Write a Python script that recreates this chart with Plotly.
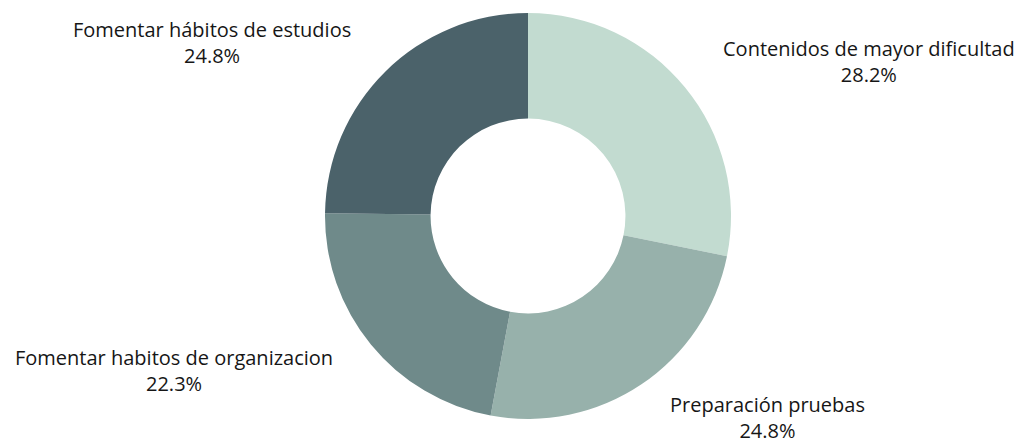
import math
import plotly.graph_objects as go

labels = ["Contenidos de mayor dificultad", "Preparación pruebas",
          "Fomentar habitos de organizacion", "Fomentar hábitos de estudios"]
values = [28.2, 24.8, 22.3, 24.8]
colors = ["#c2dbd0", "#97b1ab", "#6f8a8a", "#4b626a"]

W, H = 1023, 446
OFF = 8  # page body margin
cx, cy, R = 528 - OFF, 216 - OFF, 203
hole = 0.48
label_r = 1.2 * R
gap = 4
FONT = "Open Sans, sans-serif"

fig = go.Figure(go.Pie(
    labels=labels, values=values, sort=False, direction="clockwise", rotation=0,
    hole=hole, marker=dict(colors=colors, line=dict(width=0)),
    textinfo="none", hoverinfo="label+percent", showlegend=False,
    domain=dict(x=[(cx - R) / W, (cx + R) / W], y=[1 - (cy + R) / H, 1 - (cy - R) / H]),
))

total = sum(values)
cum = 0.0
for lab, v in zip(labels, values):
    mid = cum + v / 2
    cum += v
    ang = math.pi / 2 - 2 * math.pi * mid / total
    px = cx + label_r * math.cos(ang)
    py = cy - label_r * math.sin(ang)
    right = math.cos(ang) >= 0
    fig.add_annotation(
        x=(px + (gap if right else -gap)) / W, y=1 - py / H,
        xref="paper", yref="paper", showarrow=False,
        xanchor="left" if right else "right", yanchor="middle",
        align="center",
        text=f"{lab}<br>{100 * v / total:.1f}%",
        font=dict(family=FONT, size=20, color="#161616"),
    )

fig.update_layout(
    width=W, height=H, margin=dict(l=0, r=0, t=0, b=0),
    paper_bgcolor="white", plot_bgcolor="white",
)
fig.write_html("out.html")
